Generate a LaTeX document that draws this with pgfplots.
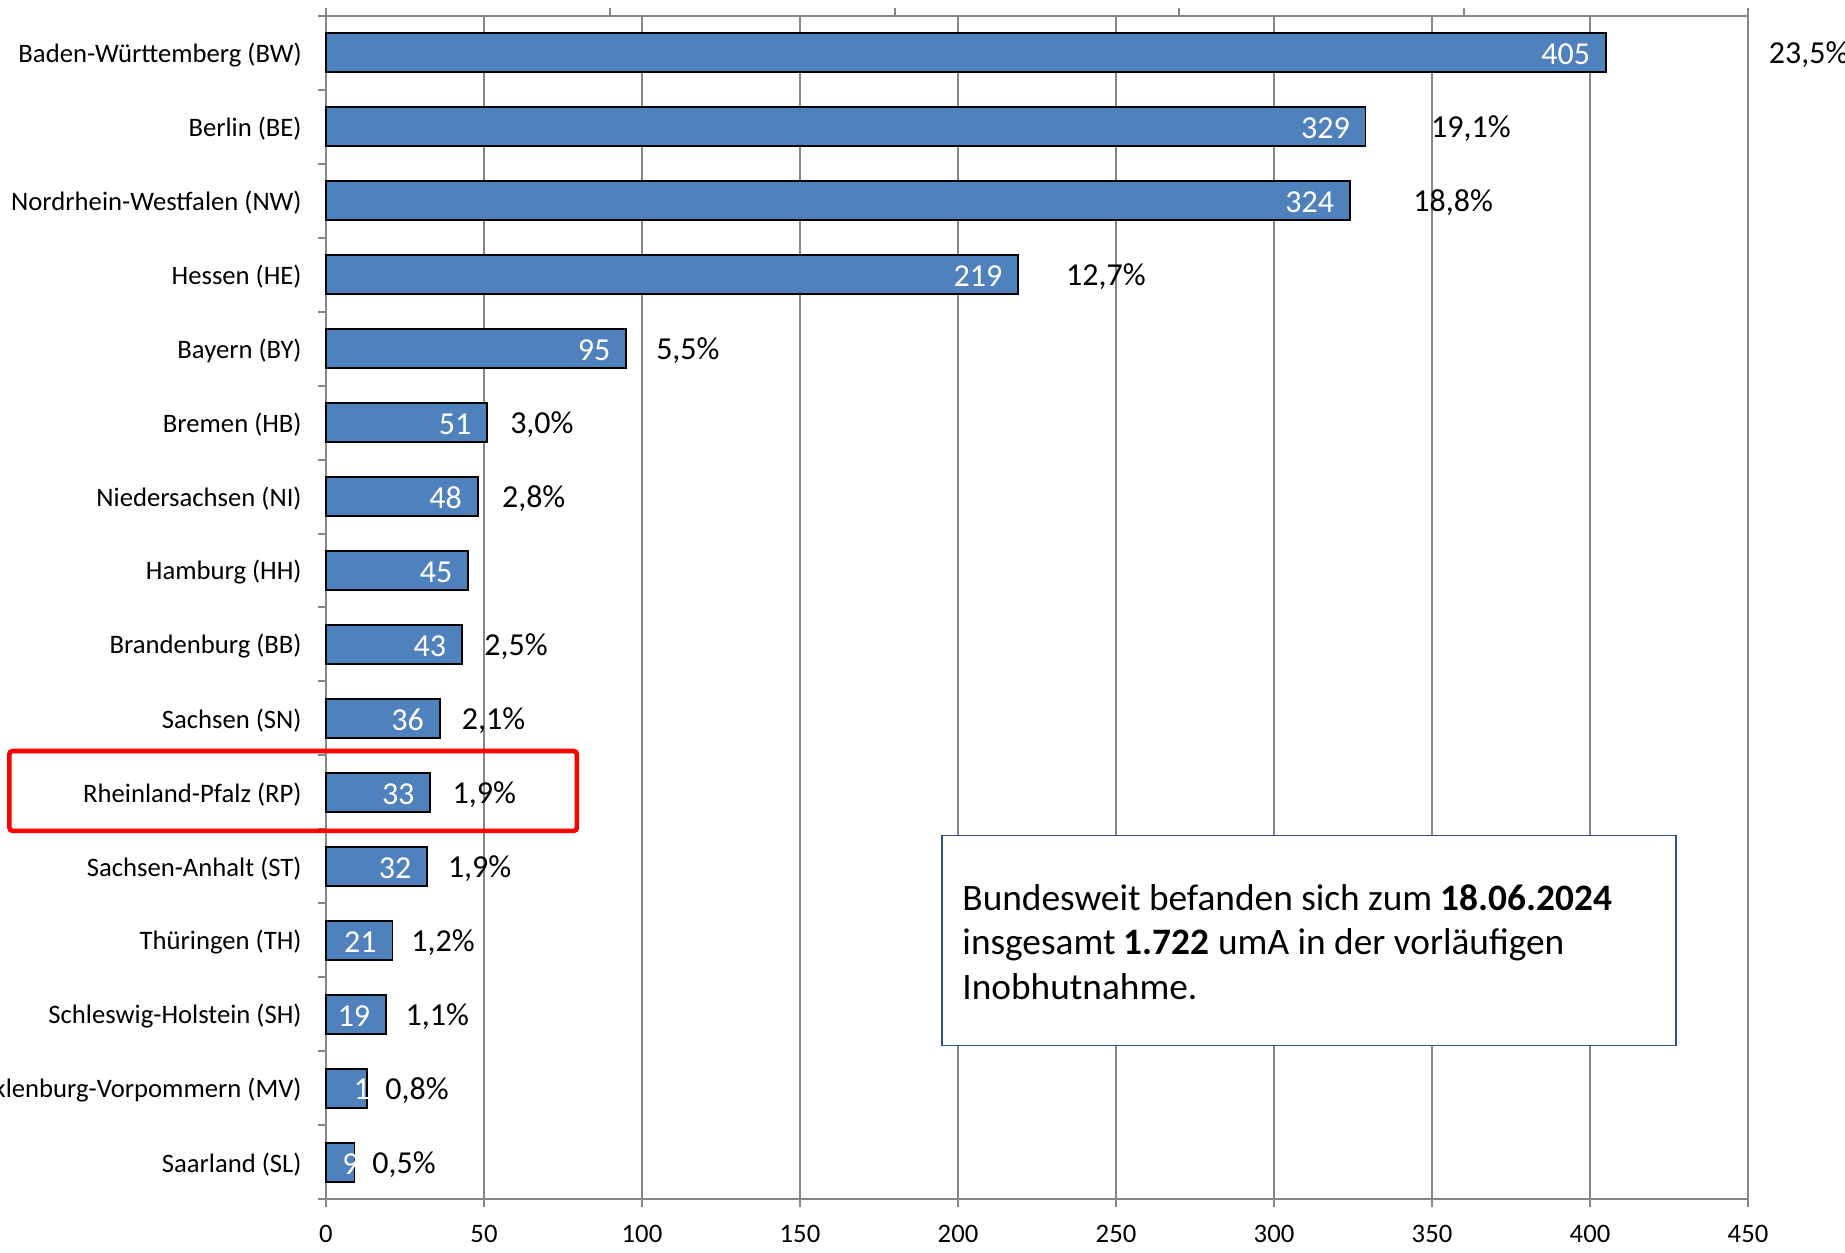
\documentclass[border=0pt]{standalone}
\usepackage{fontspec}
\setmainfont{Carlito}
\usepackage{pgfplots}
\pgfplotsset{compat=1.18}
\definecolor{barblue}{RGB}{79,129,189}
\definecolor{gridgray}{RGB}{134,134,134}
\definecolor{boxblue}{RGB}{47,82,143}

\begin{document}
\begin{tikzpicture}
\begin{axis}[
    name=ax,
    scale only axis,
    width=426.6pt, height=355.1pt,
    xmin=0, xmax=450, ymin=-0.5, ymax=15.5,
    y dir=reverse,
    clip=false,
    axis line style={gridgray, line width=0.6pt},
    xtick={0,50,...,450},
    xtick pos=left, ytick pos=left,
    tick align=outside,
    major tick length=2.4pt,
    tick style={gridgray, line width=0.6pt},
    xmajorgrids,
    grid style={gridgray, line width=0.6pt},
    ytick={-0.5,0.5,...,15.5},
    yticklabels={},
    extra y ticks={0,...,15},
    extra y tick labels={Baden-Württemberg (BW),Berlin (BE),Nordrhein-Westfalen (NW),Hessen (HE),Bayern (BY),Bremen (HB),Niedersachsen (NI),Hamburg (HH),Brandenburg (BB),Sachsen (SN),Rheinland-Pfalz (RP),Sachsen-Anhalt (ST),Thüringen (TH),Schleswig-Holstein (SH),Mecklenburg-Vorpommern (MV),Saarland (SL)},
    extra y tick style={tick style={draw=none}, yticklabel style={xshift=-1.4pt, yshift=-0.6pt}},
    ticklabel style={font=\fontsize{8}{9.6}\selectfont, text=black},
    xticklabel style={yshift=-1.8pt},
    /pgf/number format/assume math mode=true,
]
% bars with values inside
\addplot[xbar, bar width=11.7pt, bar shift=0pt, fill=barblue, draw=black, line width=0.5pt,
    point meta=explicit symbolic, nodes near coords,
    every node near coord/.append style={anchor=east, text=white, inner sep=0pt, xshift=-4.5pt,
        yshift=-0.4pt, font=\fontsize{9.6}{11}\selectfont}]
coordinates {
    (405,0) [405]
    (329,1) [329]
    (324,2) [324]
    (219,3) [219]
    (95,4) [95]
    (51,5) [51]
    (48,6) [48]
    (45,7) [45]
    (43,8) [43]
    (36,9) [36]
    (33,10) [33]
    (32,11) [32]
    (21,12) [21]
    (19,13) [19]
    (13,14) [\phantom{0}]
    (9,15) [\phantom{0}]
};
% percentage labels
\addplot[draw=none, mark=none, point meta=explicit symbolic, nodes near coords,
    every node near coord/.append style={anchor=west, text=black, inner sep=0pt,
        yshift=-0.6pt, font=\fontsize{9.6}{11}\selectfont}]
coordinates {
    (456.4,0) [23,5\%]
    (349.5,1) [19,1\%]
    (343.9,2) [18,8\%]
    (234.0,3) [12,7\%]
    (104.3,4) [5,5\%]
    (58.1,5) [3,0\%]
    (55.5,6) [2,8\%]
    (49.9,8) [2,5\%]
    (42.8,9) [2,1\%]
    (39.9,10) [1,9\%]
    (38.4,11) [1,9\%]
    (26.8,12) [1,2\%]
    (25.0,13) [1,1\%]
    (18.6,14) [0,8\%]
    (14.5,15) [0,5\%]
};
% labels of the two short bars, cut at the bar end
\begin{scope}
\clip (axis cs:0,13.7) rectangle (axis cs:13,14.3);
\node[anchor=west, text=white, inner sep=0pt, yshift=-0.4pt, font=\fontsize{9.6}{11}\selectfont] at (axis cs:8.6,14) {13};
\end{scope}
\begin{scope}
\clip (axis cs:0,14.7) rectangle (axis cs:9,15.3);
\node[anchor=west, text=white, inner sep=0pt, yshift=-0.4pt, font=\fontsize{9.6}{11}\selectfont] at (axis cs:5.0,15) {9};
\end{scope}
% highlight
\draw[red, line width=1.4pt, rounded corners=1pt] (axis cs:-100.2,9.44) rectangle (axis cs:79.4,10.52);
% text box
\draw[boxblue, line width=0.5pt, fill=white] (axis cs:195,10.58) rectangle (axis cs:427.3,13.42);
\node[anchor=west, align=left, inner sep=0pt, font=\fontsize{11.2}{13.4}\selectfont]
    at (axis cs:201.2,12.02) {Bundesweit befanden sich zum \textbf{18.06.2024}\\
    insgesamt \textbf{1.722} umA in der vorläufigen\\
    Inobhutnahme.};
\end{axis}
% top axis with its own ticks
\begin{axis}[
    at={(ax.south west)}, anchor=south west,
    scale only axis,
    width=426.6pt, height=355.1pt,
    xmin=0, xmax=450, ymin=0, ymax=1,
    axis x line*=top, axis y line=none,
    xtick={0,90,...,450}, xticklabels={},
    tick align=outside,
    major tick length=2.4pt,
    axis line style={gridgray, line width=0.6pt},
    tick style={gridgray, line width=0.6pt},
]
\end{axis}
\pgfresetboundingbox
\path[use as bounding box] ([xshift=-97.8pt,yshift=-16.1pt]ax.south west) rectangle ([xshift=29.1pt,yshift=4.7pt]ax.north east);
\end{tikzpicture}
\end{document}
